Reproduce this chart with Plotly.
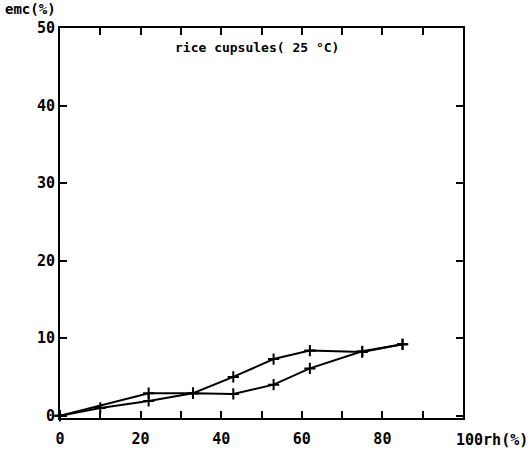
import plotly.graph_objects as go

# Data
rh_ads = [0, 10, 22, 33, 43, 53, 62, 75, 85]
emc_ads = [0, 1.0, 1.9, 2.9, 2.8, 4.0, 6.1, 8.3, 9.2]
rh_des = [0, 22, 33, 43, 53, 62, 75, 85]
emc_des = [0, 2.9, 2.9, 5.0, 7.3, 8.4, 8.2, 9.2]

x_tickvals = [0, 10, 20, 30, 40, 50, 60, 70, 80, 90, 100]
x_ticktext = ["0", "", "20", "", "40", "", "60", "", "80", "", ""]
y_tickvals = [0, 10, 20, 30, 40, 50]
y_ticktext = ["0", "10", "20", "30", "40", "50"]

title_text = "rice cupsules( 25 °C)"
x_title = "100rh(%)"
y_title = "emc(%)"

font = "DejaVu Sans Mono"

fig = go.Figure()
for xs, ys in [(rh_ads, emc_ads), (rh_des, emc_des)]:
    fig.add_trace(go.Scatter(
        x=xs, y=ys, mode="lines+markers",
        line=dict(color="black", width=2),
        marker=dict(symbol="cross-thin", size=8, line=dict(color="black", width=2)),
        showlegend=False, cliponaxis=False,
    ))

fig.update_layout(
    width=531, height=451,
    margin=dict(l=60, r=68, t=28, b=33),
    paper_bgcolor="white", plot_bgcolor="white",
    font=dict(family=font, color="black", size=14),
    xaxis=dict(range=[0, 100], tickvals=x_tickvals, ticktext=x_ticktext,
               ticks="inside", ticklen=7, tickwidth=2, tickcolor="black",
               showline=True, linewidth=2, linecolor="black", mirror="ticks",
               showgrid=False, zeroline=False, ticklabelstandoff=6, automargin=False,
               tickfont=dict(family=font, size=15, weight="bold")),
    yaxis=dict(range=[-0.3, 50], tickvals=y_tickvals, ticktext=y_ticktext,
               ticks="inside", ticklen=7, tickwidth=2, tickcolor="black",
               showline=True, linewidth=2, linecolor="black", mirror="ticks",
               showgrid=False, zeroline=False, ticklabelstandoff=0, automargin=False,
               tickfont=dict(family=font, size=15, weight="bold")),
    annotations=[
        dict(text=title_text, x=0.49, y=0.95, xref="paper", yref="paper",
             xanchor="center", yanchor="middle", showarrow=False,
             font=dict(family=font, size=13, weight="bold")),
        dict(text=x_title, x=1.0, y=0, xref="paper", yref="paper",
             xanchor="left", yanchor="top", xshift=-9, yshift=-11, showarrow=False,
             font=dict(family=font, size=15, weight="bold")),
        dict(text=y_title, x=0, y=1, xref="paper", yref="paper",
             xanchor="right", yanchor="bottom", xshift=-2, yshift=9, showarrow=False,
             font=dict(family=font, size=14, weight="bold")),
    ],
)

fig.write_html("out.html")
